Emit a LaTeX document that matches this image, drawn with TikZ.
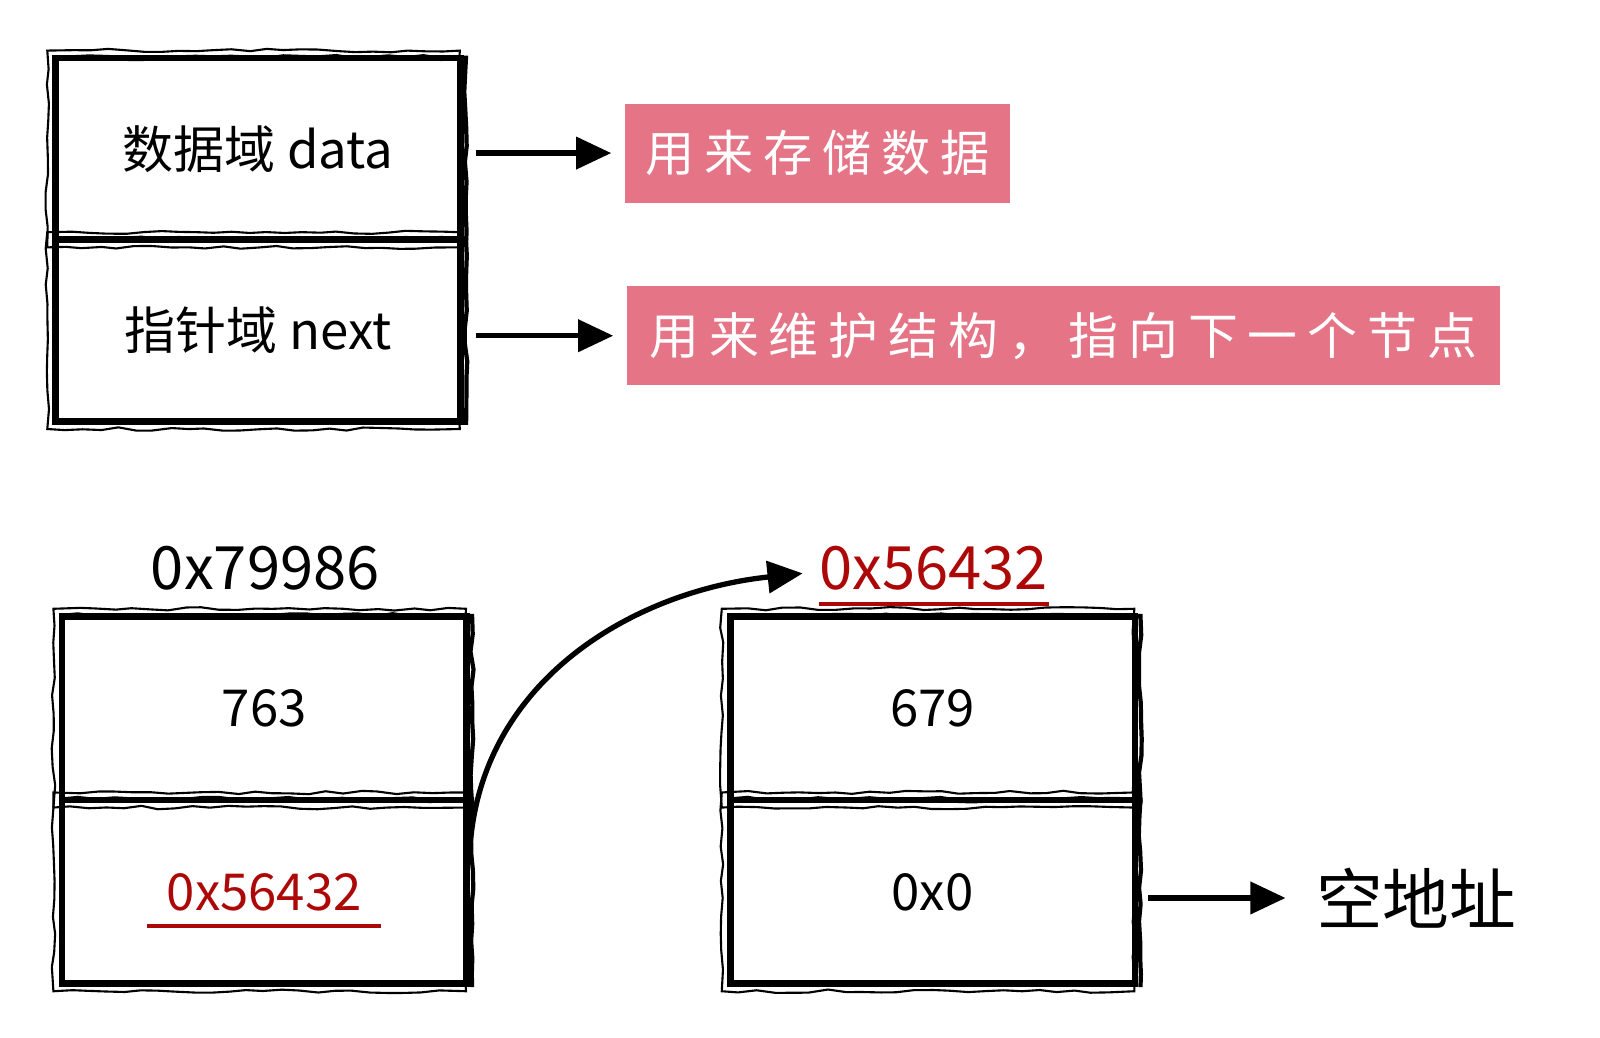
\documentclass[tikz,border=0pt]{standalone}
\usepackage{fontspec}
\newfontfamily\cjk{Noto Sans CJK SC}
\newfontfamily\cjkwide[LetterSpace=20]{Noto Sans CJK SC}
\usetikzlibrary{arrows.meta, positioning, decorations.pathmorphing}
\definecolor{notepink}{HTML}{E57486}
\definecolor{addrred}{HTML}{AD0808}

\tikzset{
  cell/.style={draw, line width=1.9pt, minimum width=4.05cm, minimum height=1.82cm,
    inner sep=0pt, font=\cjk\fontsize{14.5}{17}\selectfont},
  note/.style={fill=notepink, text=white, minimum height=0.99cm, inner sep=0pt,
    font=\cjkwide\fontsize{14}{17}\selectfont},
  addr/.style={inner sep=0pt, font=\cjk\fontsize{17}{20}\selectfont},
  link/.style={-{Triangle[length=10pt,width=9pt]}, line width=1.5pt},
  sketch/.style={line width=0.6pt, decorate,
    decoration={random steps, segment length=5pt, amplitude=0.5pt}}
}

\begin{document}
\begin{tikzpicture}[x=0.010204cm, y=-0.010204cm]
  \fill[white] (0,0) rectangle (1568,1017);

  % node layout
  \node (data) [cell] at (253,146) {数据域 data};
  \node (next) [cell] at (253,324) {指针域 next};
  \node (datanote) [note, minimum width=3.85cm] at (801,150) {用来存储数据};
  \node (nextnote) [note, minimum width=8.73cm, font=\cjkwide\fontsize{14.2}{17}\selectfont] at (1042,329) {用来维护结构，指向下一个节点};

  \node (addr1) [addr] at (260,557) {0x79986};
  \node (val1) [cell, minimum height=1.84cm] at (259,694) {763};
  \node (ptr1) [cell, minimum height=1.84cm, text=addrred] at (259,874) {0x56432};

  \node (addr2) [addr, text=addrred] at (915,557) {0x56432};
  \node (val2) [cell, minimum height=1.84cm] at (914,694) {679};
  \node (ptr2) [cell, minimum height=1.84cm] at (914,874) {0x0};

  \node (null) [inner sep=0pt, font=\cjk\fontsize{19}{22}\selectfont] at (1388,880) {空地址};

  % rough pen strokes
  \foreach \c in {data, next, val1, ptr1, val2, ptr2} {
    \draw[sketch] ([shift={(-5,-4)}]\c.north west) rectangle ([shift={(-4,4)}]\c.south east);
    \draw[sketch, line width=1.2pt] ([shift={(2,3)}]\c.north west) -- ([shift={(2,3)}]\c.north east)
      -- ([shift={(2,0)}]\c.south east);
  }

  % underlines
  \draw[addrred, line width=1.2pt] ([yshift=-0.13cm]addr2.south west) -- ([yshift=-0.13cm]addr2.south east);
  \draw[addrred, line width=1.2pt] ([xshift=-0.03cm, yshift=-0.34cm]ptr1.center -| addr1.west)
    -- ([xshift=0.01cm, yshift=-0.34cm]ptr1.center -| addr1.east);

  % arrows
  \draw[link] ([xshift=0.12cm]data.east |- datanote.west) -- ([xshift=-0.13cm]datanote.west);
  \draw[link] ([xshift=0.12cm]next.east |- nextnote.west) -- ([xshift=-0.13cm]nextnote.west);
  \draw[link] ([yshift=0.45cm]ptr1.east) to[out=86, in=186] ([xshift=-0.16cm, yshift=-0.05cm]addr2.west);
  \draw[link] ([xshift=0.1cm]ptr2.east |- null.west) -- ([xshift=-0.3cm]null.west);

  \pgfresetboundingbox
  \path[use as bounding box] (0,0) rectangle (1568,1017);
\end{tikzpicture}
\end{document}
